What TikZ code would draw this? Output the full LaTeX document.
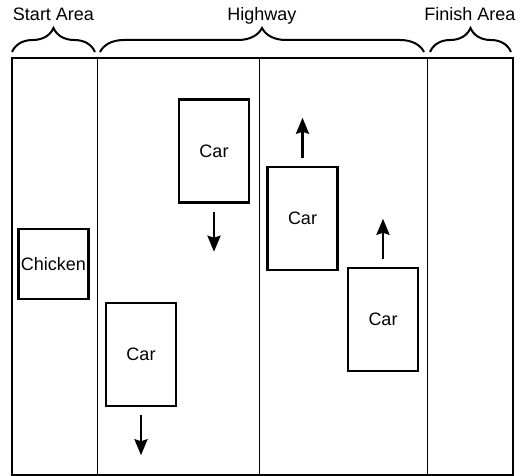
\documentclass[tikz,border=0pt]{standalone}
\usepackage{fontspec}
\setmainfont{Liberation Sans}
\usepackage{tikz}
\usetikzlibrary{arrows.meta, positioning, decorations.pathreplacing}

\tikzset{
  lbl/.style={font=\fontsize{18}{22}\selectfont},
  carbox/.style={draw, line width=2.5pt, minimum width=70pt, minimum height=103pt, inner sep=1pt, lbl},
  birdbox/.style={draw, line width=2.5pt, minimum width=70pt, minimum height=70pt, inner sep=1pt, lbl},
  move/.style={line width=2.5pt, -{Stealth[length=16pt, width=13pt, inset=2pt]}, shorten <=8pt},
  zone/.style={decorate, decoration={brace, amplitude=24pt}, line width=2pt},
}

\begin{document}
\begin{tikzpicture}[x=1pt, y=1pt]
  \useasboundingbox (0,0) rectangle (520,476);

  % Road and lane lines
  \draw[line width=2pt] (12,1) rectangle (513,418);
  \draw[line width=1pt] (97,1) -- (97,418);
  \draw[line width=1pt] (259,1) -- (259,418);
  \draw[line width=1pt] (427,1) -- (427,418);

  % Areas above the road
  \draw[zone] (12,424) -- (95,424);
  \draw[zone] (100,424) -- (424,424);
  \draw[zone] (430,424) -- (511,424);
  \node[lbl, anchor=base] (start) at (53.5,455) {Start Area};
  \node[lbl, anchor=base] (hwy) at (262,455) {Highway};
  \node[lbl, anchor=base] (finish) at (470,455) {Finish Area};

  % Chicken waiting at the start
  \node[birdbox] (chicken) at (53.5,212) {Chicken};

  % Cars going down
  \node[carbox] (car1) at (214,325) {Car};
  \node[carbox] (car2) at (141,121.5) {Car};
  % Cars going up
  \node[carbox] (car3) at (302.5,257.5) {Car};
  \node[carbox] (car4) at (383,156.5) {Car};

  % Directions
  \coordinate (car1to) at ([yshift=-48pt]car1.south);
  \coordinate (car2to) at ([yshift=-48pt]car2.south);
  \coordinate (car3to) at ([yshift=48pt]car3.north);
  \coordinate (car4to) at ([yshift=48pt]car4.north);
  \draw[move] (car1.south) -- (car1to);
  \draw[move] (car2.south) -- (car2to);
  \draw[move] (car3.north) -- (car3to);
  \draw[move] (car4.north) -- (car4to);
\end{tikzpicture}
\end{document}
